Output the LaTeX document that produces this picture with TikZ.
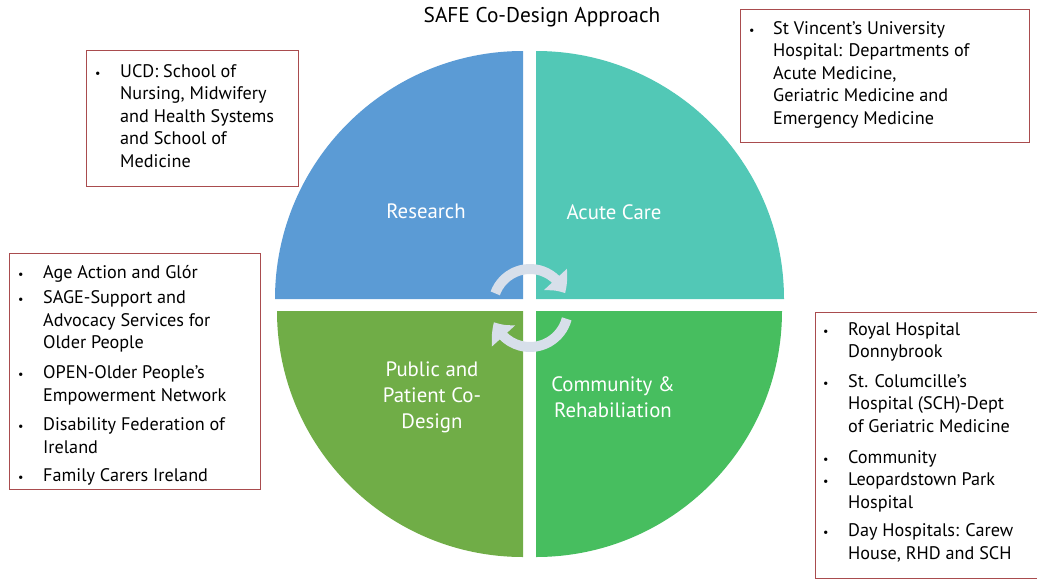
\documentclass[tikz,border=0pt]{standalone}
\usepackage{fontspec}
\setmainfont{PT Sans}
\usepackage{array}
\usetikzlibrary{arrows.meta,bending,calc}
\definecolor{research}{HTML}{5B9BD5}
\definecolor{acute}{HTML}{52C8B6}
\definecolor{public}{HTML}{70AD47}
\definecolor{community}{HTML}{47BE5F}
\definecolor{cycle}{HTML}{D7DFEA}
\definecolor{boxline}{HTML}{A94C4E}
\tikzset{
  infobox/.style={draw=boxline, line width=1.1pt, anchor=north west, inner sep=0pt},
  infotext/.style={anchor=north west, inner sep=0pt, font=\fontsize{18.2}{22.6}\selectfont},
  quartertext/.style={text=white, align=center, font=\fontsize{20.8}{26}\selectfont},
  cyclearrow/.style={cycle, line width=10pt, -{Triangle[length=17pt,width=30pt,bend]}}
}
\newcommand{\blt}{\hspace{2pt}{\fontsize{12}{12}\selectfont\textbullet}}
\begin{document}
\begin{tikzpicture}[x=1pt,y=-1pt]
		\useasboundingbox (0,0) rectangle (1037,579);
		%%%%% START %%%%%
		\node[font=\fontsize{21.3}{24}\selectfont] (title) at (542,17) {SAFE Co-Design Approach};
		
		% four quarters
		\fill[research] (523,299) -- ++(-248,0) arc (180:270:248) -- cycle;
		\fill[acute] (536,299) -- ++(0,-248) arc (270:360:248) -- cycle;
		\fill[public] (523,311) -- ++(0,246) arc (90:180:246) -- cycle;
		\fill[community] (536,311) -- ++(246,0) arc (0:90:246) -- cycle;
		
		\node[quartertext] (research) at (426,211) {Research};
		\node[quartertext] (acute) at (614,212) {Acute Care};
		\node[quartertext] (public) at (432,397) {Public and\\Patient Co-\\Design};
		\node[quartertext] (community) at (613,397) {Community \&\\Rehabiliation};
		
		% cycle arrows
		\coordinate (hubup) at (530,306);
		\coordinate (hubdown) at (530,309);
		\draw[cyclearrow] ($(hubup)+(200:37)$) arc (200:340:37);
		\draw[cyclearrow] ($(hubdown)+(15:38)$) arc (15:160:38);
		
		% partner boxes
		\node[infobox, minimum width=212, minimum height=136] (ucdbox) at (86,50) {};
		\node[infotext] (ucd) at (93,61) {\begin{tabular}{@{}p{27pt}@{}l@{}}
			\blt & UCD: School of\\
			& Nursing, Midwifery\\
			& and Health Systems\\
			& and School of\\
			& Medicine
		\end{tabular}};
		
		\node[infobox, minimum width=289, minimum height=133] (svuhbox) at (740,9) {};
		\node[infotext] (svuh) at (747,18) {\begin{tabular}{@{}p{26pt}@{}l@{}}
			\blt & St Vincent’s University\\
			& Hospital: Departments of\\
			& Acute Medicine,\\
			& Geriatric Medicine and\\
			& Emergency Medicine
		\end{tabular}};
		
		\node[infobox, minimum width=251, minimum height=236] (ppibox) at (9,253) {};
		\node[infotext] (ppi) at (16,262) {\begin{tabular}{@{}p{27pt}@{}l@{}}
			\blt & Age Action and Glór\\[3pt]
			\blt & SAGE-Support and\\
			& Advocacy Services for\\
			& Older People\\[7pt]
			\blt & OPEN-Older People’s\\
			& Empowerment Network\\[7pt]
			\blt & Disability Federation of\\
			& Ireland\\[6pt]
			\blt & Family Carers Ireland
		\end{tabular}};
		
		\node[infobox, minimum width=240, minimum height=266] (commbox) at (815,312) {};
		\node[infotext] (comm) at (821,319) {\begin{tabular}{@{}p{27pt}@{}l@{}}
			\blt & Royal Hospital\\
			& Donnybrook\\[7pt]
			\blt & St. Columcille’s\\
			& Hospital (SCH)-Dept\\
			& of Geriatric Medicine\\[8pt]
			\blt & Community\\
			\blt & Leopardstown Park\\
			& Hospital\\[6pt]
			\blt & Day Hospitals: Carew\\
			& House, RHD and SCH
		\end{tabular}};
		%%%%% END %%%%%
	\end{tikzpicture}
\end{document}
